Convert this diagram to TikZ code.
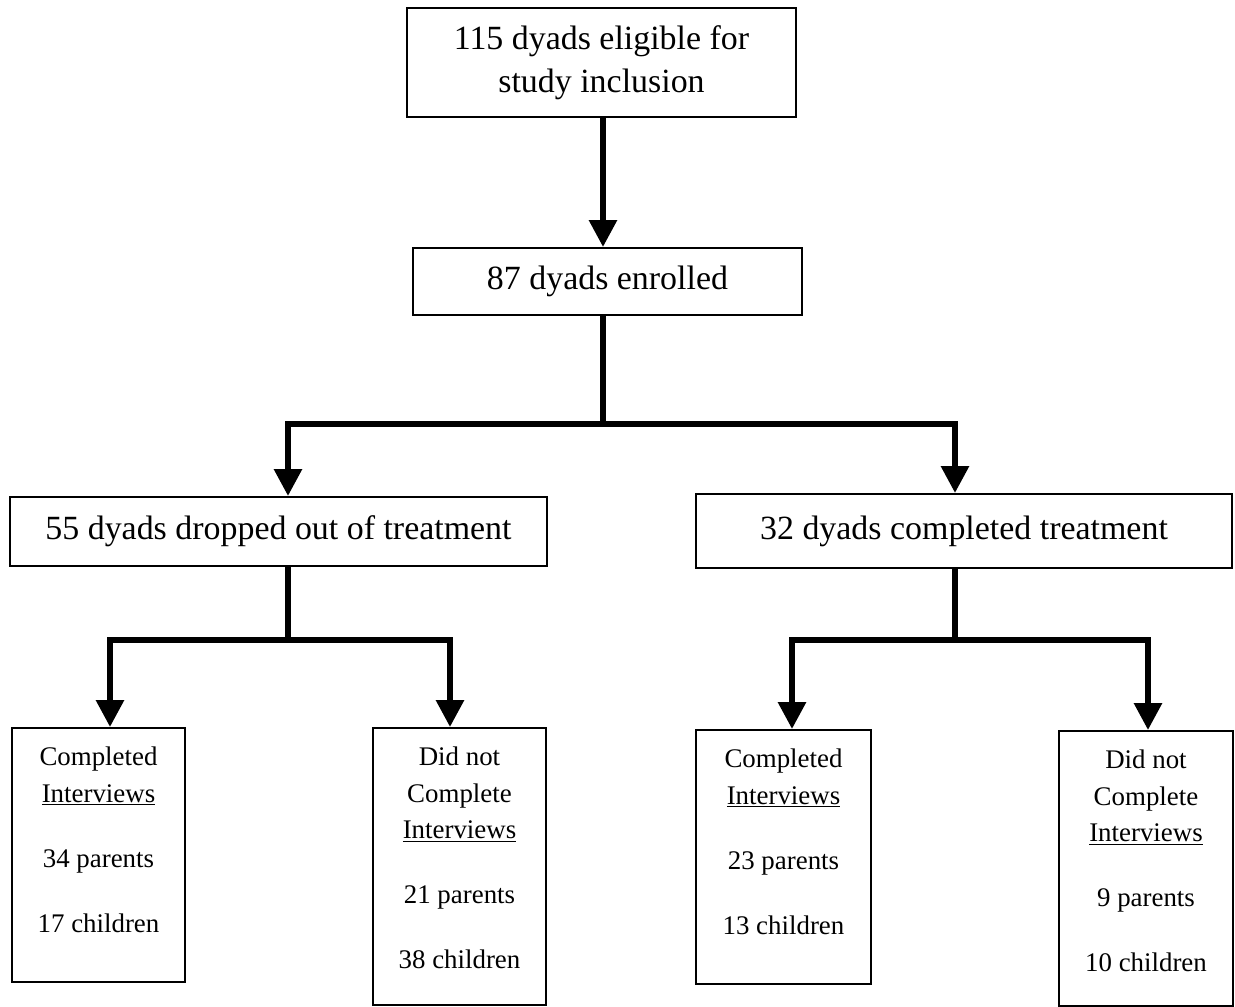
\documentclass[tikz,border=0pt]{standalone}
\usepackage{fontspec}
\setmainfont{Liberation Serif}
\usetikzlibrary{arrows.meta}

% text block of the interview boxes: width, height, lines
\newcommand{\intbox}[3]{\parbox[c][#2][t]{#1}{\centering\vspace*{10.5pt}#3}}

\begin{document}
\begin{tikzpicture}[x=0.02cm,y=-0.02cm,
		bigbox/.style={draw,line width=0.04cm,inner sep=0pt,align=center,font=\fontsize{19.3pt}{24.4pt}\selectfont},
		smallbox/.style={draw,line width=0.04cm,inner sep=0pt,font=\fontsize{15.3pt}{21pt}\selectfont},
		conn/.style={line width=0.12cm},
		arr/.style={line width=0.12cm,-{Triangle[length=0.54cm,width=0.54cm]}}]
		\useasboundingbox (0,0) rectangle (1235,1007);
		% boxes
		\node[bigbox,minimum width=7.78cm,minimum height=2.18cm] (elig) at (601.5,62.5) {115 dyads eligible for\\study inclusion};
		\node[bigbox,minimum width=7.78cm,minimum height=1.34cm] (enr) at (607.5,281.5) {87 dyads enrolled};
		\node[bigbox,minimum width=10.74cm,minimum height=1.38cm] (drop) at (278.5,531.5) {55 dyads dropped out of treatment};
		\node[bigbox,minimum width=10.72cm,minimum height=1.48cm] (comp) at (964,531) {32 dyads completed treatment};
		\node[smallbox] (b1) at (98.5,855) {\intbox{3.46cm}{5.08cm}{Completed\\\underline{Interviews}\\[16pt]34 parents\\[16pt]17 children}};
		\node[smallbox] (b2) at (459.5,866.5) {\intbox{3.46cm}{5.54cm}{Did not\\Complete\\\underline{Interviews}\\[16pt]21 parents\\[16pt]38 children}};
		\node[smallbox] (b3) at (783.5,857) {\intbox{3.5cm}{5.08cm}{Completed\\\underline{Interviews}\\[16pt]23 parents\\[16pt]13 children}};
		\node[smallbox] (b4) at (1146,868.5) {\intbox{3.48cm}{5.5cm}{Did not\\Complete\\\underline{Interviews}\\[16pt]9 parents\\[16pt]10 children}};
		% junctions
		\coordinate (j0) at (603,424);
		\coordinate (l0) at (288,424);
		\coordinate (r0) at (955,424);
		\coordinate (j1) at (288,640);
		\coordinate (l1) at (110,640);
		\coordinate (r1) at (450,640);
		\coordinate (j2) at (955,640);
		\coordinate (l2) at (792,640);
		\coordinate (r2) at (1148,640);
		% connectors
		\draw[arr] (elig.south -| j0) -- (enr.north -| j0);
		\draw[conn] (enr.south -| j0) -- (j0);
		\draw[arr] (j0) -- (l0) -- (drop.north -| l0);
		\draw[arr] (j0) -- (r0) -- (comp.north -| r0);
		\draw[conn] (drop.south -| j1) -- (j1);
		\draw[arr] (j1) -- (l1) -- (b1.north -| l1);
		\draw[arr] (j1) -- (r1) -- (b2.north -| r1);
		\draw[conn] (comp.south -| j2) -- (j2);
		\draw[arr] (j2) -- (l2) -- (b3.north -| l2);
		\draw[arr] (j2) -- (r2) -- (b4.north -| r2);
	\end{tikzpicture}
\end{document}
